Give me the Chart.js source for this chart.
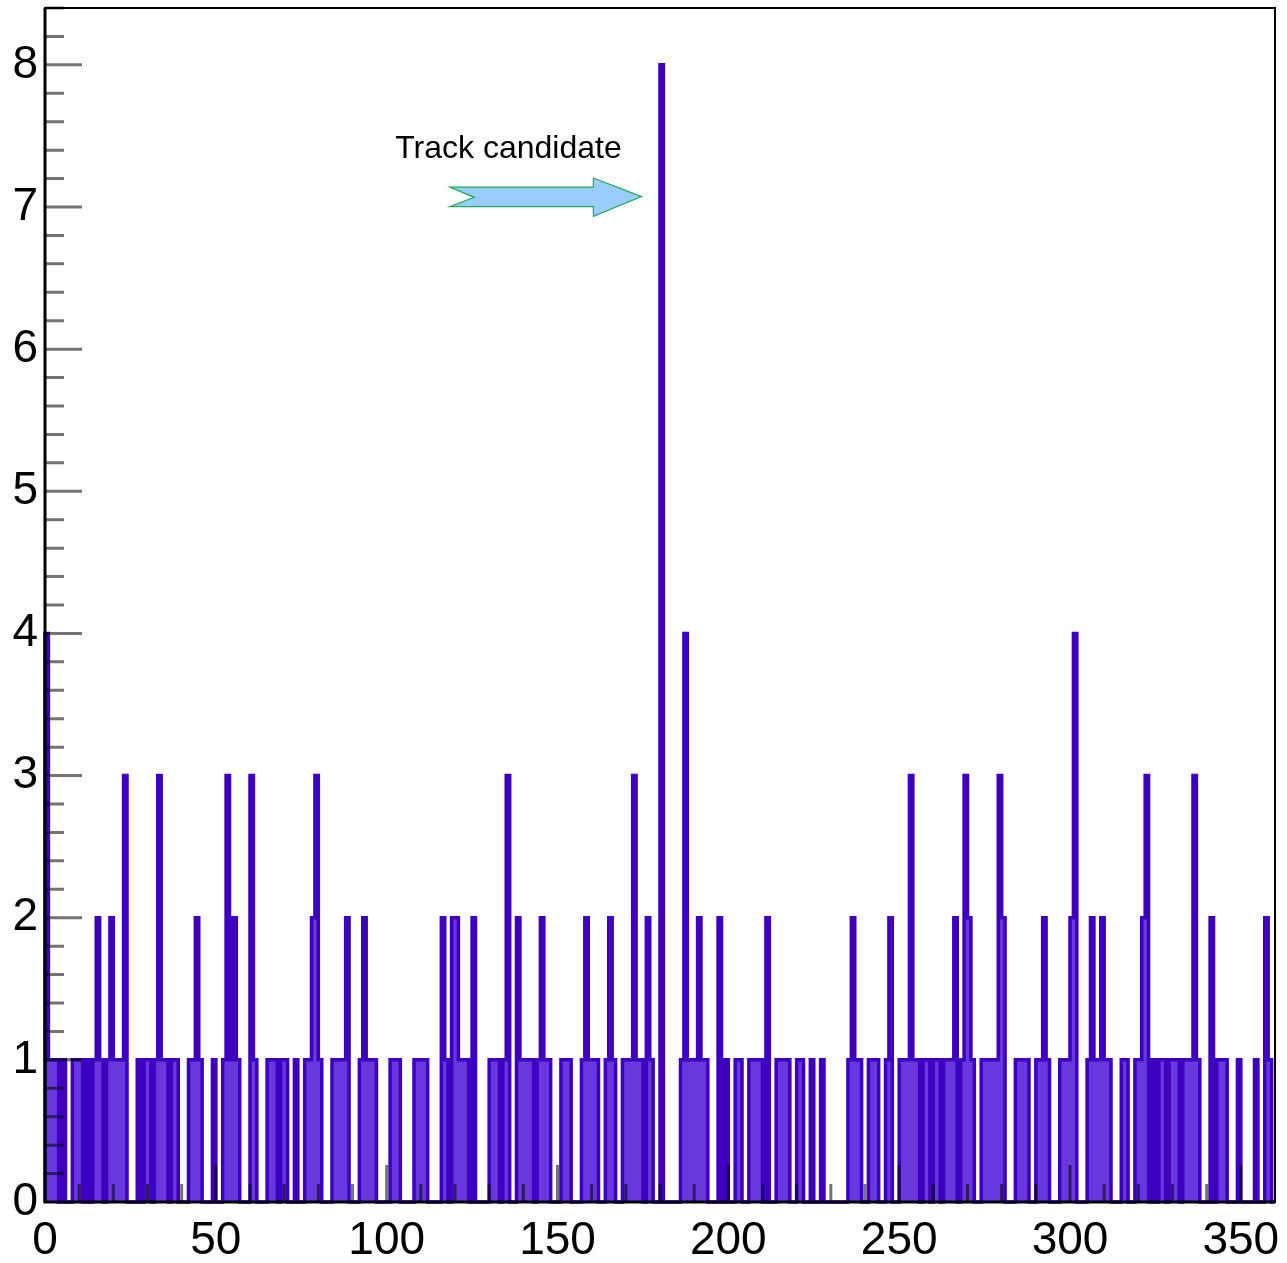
<!DOCTYPE html>
<html>
<head>
<meta charset="utf-8">
<title>Track candidate</title>
<script src="https://cdn.jsdelivr.net/npm/chart.js@4.4.0/dist/chart.umd.min.js"></script>
<style>
  body { margin: 0; background: #fff; }
  #wrap { width: 1287px; height: 1263px; }
</style>
</head>
<body>
<div id="wrap"><canvas id="chart" width="1287" height="1263"></canvas></div>
<script>
// hits per 1 degree bin, bin 0 .. bin 359
let counts = [
    4,1,1,1,0,1,0,0,1,1,1,0,1,0,1,2,1,0,1,2,
    1,1,1,3,0,0,0,1,0,1,1,0,1,3,1,1,0,1,1,0,
    0,0,1,1,2,1,0,0,0,1,0,0,1,3,1,2,1,0,0,0,
    3,1,0,0,0,1,1,1,0,1,1,0,0,1,0,0,1,1,2,3,
    1,0,0,0,1,1,1,1,2,0,0,0,1,2,1,1,1,0,0,0,
    0,1,1,1,0,0,0,0,1,1,1,1,0,0,0,0,2,1,0,2,
    2,1,1,1,0,2,0,0,0,0,1,1,1,0,1,3,0,0,2,1,
    1,1,1,0,1,2,1,1,0,0,0,1,1,1,0,0,0,1,2,1,
    1,1,0,0,1,2,1,0,0,1,1,1,3,1,1,0,2,1,0,0,
    8,0,0,0,0,0,1,4,1,1,1,2,1,1,0,0,0,2,0,1,
    0,0,1,1,0,0,1,1,1,1,0,2,0,0,1,1,1,1,0,0,
    1,1,0,0,1,0,0,1,0,0,0,0,0,0,0,1,2,1,1,0,
    0,1,1,1,0,0,1,2,0,0,1,1,1,3,1,1,0,1,1,0,
    1,1,0,1,1,1,2,0,1,3,2,1,0,0,1,1,1,1,1,3,
    2,0,0,0,1,1,1,1,0,0,1,1,2,1,0,0,0,1,1,1,
    2,4,0,0,0,1,2,1,1,2,1,1,0,0,0,1,1,0,0,1,
    1,2,3,0,1,0,1,1,0,1,1,1,0,1,1,1,3,1,0,0,
    0,2,0,1,1,1,0,0,0,1,0,0,0,0,1,0,0,2,1,0
];
let xLabels = [0, 50, 100, 150, 200, 250, 300, 350];
let yLabels = [0, 1, 2, 3, 4, 5, 6, 7, 8];
let noteText = 'Track candidate';

// histogram outline: start and end on the baseline, one point per bin low edge
let points = [{x: 0, y: 0}];
counts.forEach((c, i) => points.push({x: i, y: c}));
points.push({x: counts.length, y: 0});

// ticks pointing inward, frame, and the arrow note
let framePlugin = {
    id: 'frame',
    afterDatasetsDraw(chart) {
        let ctx = chart.ctx;
        let a = chart.chartArea;
        let xs = chart.scales.x;
        let ys = chart.scales.y;
        ctx.save();

        ctx.strokeStyle = 'rgba(0,0,0,0.55)';
        ctx.lineWidth = 3;
        ctx.beginPath();
        for (let k = 1; k <= 42; k++) {
            let py = ys.getPixelForValue(k / 5);
            let len = (k % 5 === 0) ? 37 : 19;
            ctx.moveTo(a.left, py);
            ctx.lineTo(a.left + len, py);
        }
        for (let k = 1; k <= 35; k++) {
            let px = xs.getPixelForValue(k * 10);
            let len = (k % 5 === 0) ? 37 : 18;
            ctx.moveTo(px, a.bottom);
            ctx.lineTo(px, a.bottom - len);
        }
        ctx.stroke();

        ctx.strokeStyle = '#000';
        ctx.lineWidth = 2;
        ctx.strokeRect(a.left, a.top, a.right - a.left, a.bottom - a.top);
        ctx.lineWidth = 3;
        ctx.beginPath();
        ctx.moveTo(a.left, a.top);
        ctx.lineTo(a.left, a.bottom);
        ctx.lineTo(a.right, a.bottom);
        ctx.stroke();

        // arrow, given in axis units
        let arrow = [
            [118.5, 7.140], [160.5, 7.140], [160.5, 7.204], [174.6, 7.073],
            [160.5, 6.934], [160.5, 7.002], [118.5, 7.002], [125.6, 7.068]
        ];
        ctx.beginPath();
        arrow.forEach((p, i) => {
            let px = xs.getPixelForValue(p[0]);
            let py = ys.getPixelForValue(p[1]);
            if (i === 0) ctx.moveTo(px, py); else ctx.lineTo(px, py);
        });
        ctx.closePath();
        ctx.fillStyle = '#99ccff';
        ctx.fill();
        ctx.strokeStyle = '#22aa55';
        ctx.lineWidth = 1.2;
        ctx.stroke();

        ctx.fillStyle = '#000';
        ctx.font = '32px "Liberation Sans", Arial, sans-serif';
        ctx.textAlign = 'left';
        ctx.textBaseline = 'middle';
        ctx.fillText(noteText, xs.getPixelForValue(102.5), ys.getPixelForValue(7.41));
        ctx.restore();
    }
};

// fixed axis boxes, no extra room kept for the outer labels
function fixBox(s, size) {
    if (s.isHorizontal()) s.height = size; else s.width = size;
    s.paddingTop = 0;
    s.paddingBottom = 0;
    s.paddingLeft = 0;
    s.paddingRight = 0;
}

Chart.defaults.font.family = '"Liberation Sans", Arial, sans-serif';

let chart = document.getElementById('chart').getContext('2d');
let histChart = new Chart(chart, {
    type: 'line',
    data: {
        datasets: [{
            data: points,
            stepped: 'before',
            fill: 'origin',
            backgroundColor: 'rgb(104, 56, 222)',
            borderColor: 'rgb(62, 0, 192)',
            borderWidth: 3.5,
            pointRadius: 0,
            clip: 4
        }]
    },
    options: {
        responsive: false,
        animation: false,
        layout: {autoPadding: false, padding: {top: 8, right: 12, left: 0, bottom: 0}},
        plugins: {legend: {display: false}, tooltip: {enabled: false}},
        scales: {
            x: {
                type: 'linear',
                min: 0,
                max: 360,
                grid: {display: false, drawTicks: false},
                border: {display: false},
                ticks: {color: '#000', font: {size: 46}, padding: 12, maxRotation: 0, autoSkip: false},
                afterBuildTicks: s => { s.ticks = xLabels.map(v => ({value: v})); },
                afterFit: s => fixBox(s, 61)
            },
            y: {
                min: 0,
                max: 8.4,
                grid: {display: false, drawTicks: false},
                border: {display: false},
                ticks: {color: '#000', font: {size: 46}, padding: 7, autoSkip: false},
                afterBuildTicks: s => { s.ticks = yLabels.map(v => ({value: v})); },
                afterFit: s => fixBox(s, 45)
            }
        }
    },
    plugins: [framePlugin]
});
</script>
</body>
</html>
